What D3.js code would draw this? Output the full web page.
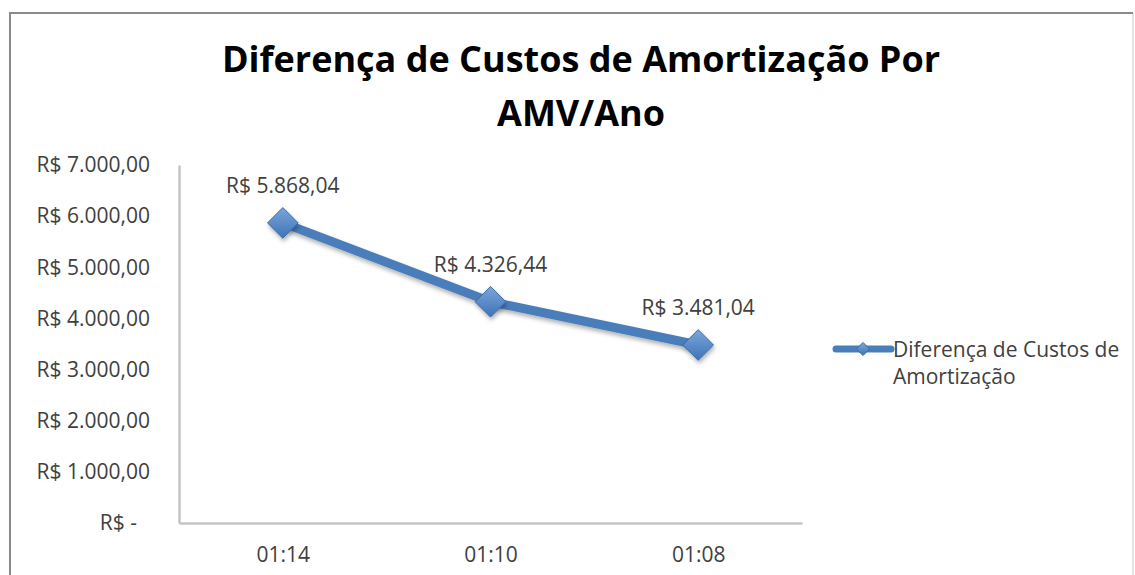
<!DOCTYPE html>
<html>
<head>
<meta charset="utf-8">
<script src="https://cdn.jsdelivr.net/npm/d3@7"></script>
<style>
  body { margin: 0; background: #fff; }
  svg { display: block; font-family: "Open Sans", "Noto Sans", sans-serif; }
</style>
</head>
<body>
<script>
// ---------------------- DATA ----------------------

const categories = ["01:14", "01:10", "01:08"];
const values = [5868.04, 4326.44, 3481.04];
const yTicks = [0, 1000, 2000, 3000, 4000, 5000, 6000, 7000];
const titleLines = ["Diferença de Custos de Amortização Por", "AMV/Ano"];
const seriesName = ["Diferença de Custos de", "Amortização"];

// ---------------------- HELPERS ----------------------

// R$ money format, Brazilian style (1.234,56), zero shown as dash
function brl(v) {
    if (v === 0) return "R$ -";
    const parts = v.toFixed(2).split(".");
    const int = parts[0].replace(/\B(?=(\d{3})+(?!\d))/g, ".");
    return "R$ " + int + "," + parts[1];
}

// ---------------------- RENDER ----------------------

const width = 1135, height = 575;
const margin = { left: 179, top: 165, right: 802, bottom: 523 };

const svg = d3.select("body").append("svg")
    .attr("width", width)
    .attr("height", height);

const defs = svg.append("defs");
const shadow = defs.append("filter").attr("id", "shadow")
    .attr("x", "-20%").attr("y", "-20%").attr("width", "140%").attr("height", "160%");
shadow.append("feDropShadow")
    .attr("dx", 1).attr("dy", 3).attr("stdDeviation", 2)
    .attr("flood-color", "#000").attr("flood-opacity", 0.3);

const grad = defs.append("linearGradient").attr("id", "mk")
    .attr("x1", 0).attr("y1", 0).attr("x2", 0).attr("y2", 1);
grad.append("stop").attr("offset", "0%").attr("stop-color", "#7aa6dc");
grad.append("stop").attr("offset", "100%").attr("stop-color", "#3f73b5");

// chart frame
svg.append("line").attr("x1", 1133).attr("y1", 13).attr("x2", 1133).attr("y2", 575)
    .attr("stroke", "#e4e4e4").attr("stroke-width", 2);
svg.append("path").attr("d", "M10,575V13H1133")
    .attr("fill", "none").attr("stroke", "#8a8a8a").attr("stroke-width", 2);

// title
svg.append("text")
    .attr("x", 581).attr("y", 72)
    .attr("text-anchor", "middle")
    .attr("font-size", 36).attr("font-weight", "bold")
    .attr("fill", "#000")
    .selectAll("tspan")
    .data(titleLines)
    .enter().append("tspan")
    .attr("x", 581)
    .attr("dy", (d, i) => i === 0 ? 0 : 54)
    .text(d => d);

// scales
const x = d3.scalePoint()
    .domain(categories)
    .range([margin.left, margin.right])
    .padding(0.5);

const y = d3.scaleLinear()
    .domain([0, 7000])
    .range([margin.bottom, margin.top]);

// y axis
const yAxis = svg.append("g")
    .attr("transform", `translate(${margin.left},0)`)
    .call(d3.axisLeft(y).tickValues(yTicks).tickSize(0).tickPadding(29).tickFormat(brl));
yAxis.select(".domain").attr("stroke", "#c4c4c4").attr("stroke-width", 2.5);
yAxis.selectAll("text")
    .attr("font-size", 21).attr("fill", "#404040")
    .attr("font-family", "Open Sans, sans-serif")
    .attr("dx", d => d === 0 ? -13 : 0);

// x axis
const xAxis = svg.append("g")
    .attr("transform", `translate(0,${margin.bottom})`)
    .call(d3.axisBottom(x).tickSize(0).tickPadding(24));
xAxis.select(".domain").attr("stroke", "#c4c4c4").attr("stroke-width", 2.5);
xAxis.selectAll("text")
    .attr("font-size", 21).attr("fill", "#404040")
    .attr("font-family", "Open Sans, sans-serif");

// series line
const line = d3.line()
    .x((d, i) => x(categories[i]))
    .y(d => y(d));

svg.append("path")
    .datum(values)
    .attr("d", line)
    .attr("fill", "none")
    .attr("stroke", "#4a7ebb")
    .attr("stroke-width", 9)
    .attr("stroke-linejoin", "round")
    .attr("stroke-linecap", "round")
    .attr("filter", "url(#shadow)");

// diamond markers
const diamond = d3.symbol().type(d3.symbolDiamond2).size(600);
svg.selectAll(".marker")
    .data(values)
    .enter().append("path")
    .attr("class", "marker")
    .attr("d", diamond)
    .attr("transform", (d, i) => `translate(${x(categories[i])},${y(d)})`)
    .attr("fill", "url(#mk)")
    .attr("stroke", "#3a6aa6")
    .attr("stroke-width", 1)
    .attr("filter", "url(#shadow)");

// data labels
svg.selectAll(".dlabel")
    .data(values)
    .enter().append("text")
    .attr("class", "dlabel")
    .attr("x", (d, i) => x(categories[i]))
    .attr("y", d => y(d) - 30)
    .attr("text-anchor", "middle")
    .attr("font-size", 21)
    .attr("fill", "#404040")
    .text(d => brl(d));

// legend
const legend = svg.append("g").attr("transform", "translate(836,349)");
legend.append("line")
    .attr("x1", 0).attr("x2", 55)
    .attr("stroke", "#4a7ebb").attr("stroke-width", 7)
    .attr("stroke-linecap", "round");
legend.append("path")
    .attr("d", d3.symbol().type(d3.symbolDiamond2).size(110))
    .attr("transform", "translate(27,0)")
    .attr("fill", "url(#mk)")
    .attr("stroke", "#3a6aa6");
legend.append("text")
    .attr("x", 57).attr("y", 8)
    .attr("font-size", 21)
    .attr("fill", "#404040")
    .selectAll("tspan")
    .data(seriesName)
    .enter().append("tspan")
    .attr("x", 57)
    .attr("dy", (d, i) => i === 0 ? 0 : 27)
    .text(d => d);
</script>
</body>
</html>
